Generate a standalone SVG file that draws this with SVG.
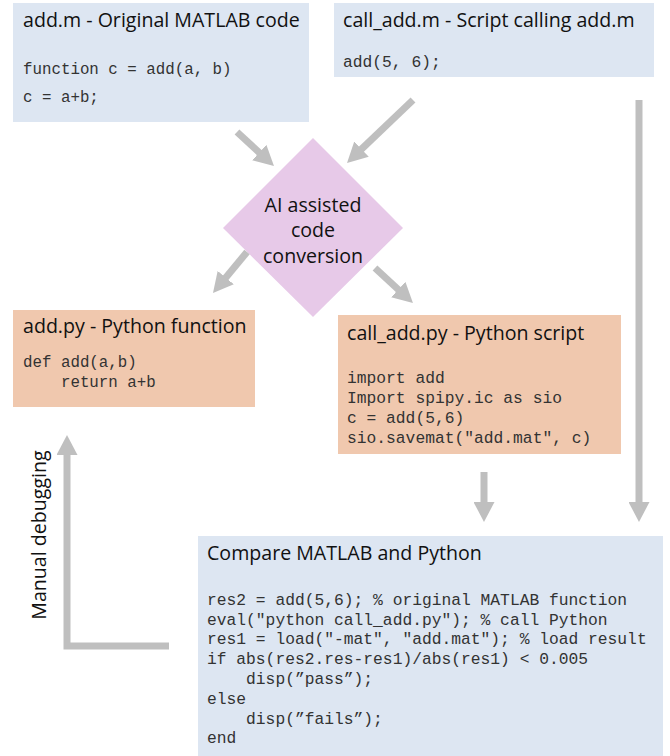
<svg xmlns="http://www.w3.org/2000/svg" width="670" height="756" viewBox="0 0 670 756">
<style>
.blue{fill:#dde6f2}
.orange{fill:#f0c8ae}
.diam{fill:#e7c9e8}
.title{font-family:"Open Sans","Liberation Sans",sans-serif;font-size:19.6px;fill:#111}
.code{font-family:"Liberation Mono","Courier New",monospace;font-size:16.3px;fill:#333;white-space:pre}
.sm{font-size:15.8px}
.arrow{fill:none;stroke:#bfbfbf;stroke-width:7;stroke-linejoin:miter}
</style>
<defs>
<marker id="ah" markerUnits="userSpaceOnUse" markerWidth="20" markerHeight="21" refX="4" refY="10.5" orient="auto" viewBox="0 0 20 21">
<path d="M0,0 L20,10.5 L0,21 z" fill="#bfbfbf"/>
</marker>
</defs>
<rect width="670" height="756" fill="#ffffff"/>

<g id="add_m">
<rect class="blue" x="13" y="3" width="296" height="119"/>
<text class="title" x="23" y="27">add.m - Original MATLAB code</text>
<text class="code sm" x="23" y="74">function c = add(a, b)</text>
<text class="code sm" x="23" y="102">c = a+b;</text>
</g>

<g id="call_add_m">
<rect class="blue" x="334" y="3" width="320" height="74"/>
<text class="title" x="343" y="27">call_add.m - Script calling add.m</text>
<text class="code" x="343" y="67">add(5, 6);</text>
</g>

<g id="ai_conversion">
<polygon class="diam" points="313,138 403,228 313,317 223,228"/>
<text class="title" x="313" y="212" text-anchor="middle">AI assisted</text>
<text class="title" x="313" y="237" text-anchor="middle">code</text>
<text class="title" x="313" y="263" text-anchor="middle">conversion</text>
</g>

<g id="add_py">
<rect class="orange" x="13" y="310" width="242" height="97"/>
<text class="title" x="23" y="333">add.py - Python function</text>
<text class="code sm" x="23" y="367">def add(a,b)</text>
<text class="code sm" x="23" y="387">    return a+b</text>
</g>

<g id="call_add_py">
<rect class="orange" x="338" y="315" width="283" height="139"/>
<text class="title" x="347" y="340">call_add.py - Python script</text>
<text class="code" x="347" y="383">import add</text>
<text class="code" x="347" y="403">Import spipy.ic as sio</text>
<text class="code" x="347" y="423">c = add(5,6)</text>
<text class="code" x="347" y="443">sio.savemat("add.mat", c)</text>
</g>

<g id="compare">
<rect class="blue" x="198" y="536" width="465" height="225"/>
<text class="title" x="207" y="560">Compare MATLAB and Python</text>
<text class="code" x="207" y="605">res2 = add(5,6); % original MATLAB function</text>
<text class="code" x="207" y="625">eval("python call_add.py"); % call Python</text>
<text class="code" x="207" y="644">res1 = load("-mat", "add.mat"); % load result</text>
<text class="code" x="207" y="664">if abs(res2.res-res1)/abs(res1) &lt; 0.005</text>
<text class="code" x="207" y="684">    disp(”pass”);</text>
<text class="code" x="207" y="704">else</text>
<text class="code" x="207" y="724">    disp(”fails”);</text>
<text class="code" x="207" y="743">end</text>
</g>

<g id="connectors">
<line class="arrow" x1="237" y1="132" x2="262.2" y2="155.2" marker-end="url(#ah)"/>
<line class="arrow" x1="413" y1="100" x2="358.6" y2="151.9" marker-end="url(#ah)"/>
<line class="arrow" x1="247" y1="252" x2="223.2" y2="280.7" marker-end="url(#ah)"/>
<line class="arrow" x1="375" y1="268" x2="401.2" y2="292.2" marker-end="url(#ah)"/>
<line class="arrow" x1="484" y1="472" x2="484" y2="506" marker-end="url(#ah)"/>
<line class="arrow" x1="639" y1="100" x2="639" y2="506" marker-end="url(#ah)"/>
<polyline class="arrow" points="169,646 67,646 67,451" marker-end="url(#ah)"/>
<text class="title" transform="translate(46,535) rotate(-90)" text-anchor="middle" style="font-size:19.6px">Manual debugging</text>
</g>
</svg>
